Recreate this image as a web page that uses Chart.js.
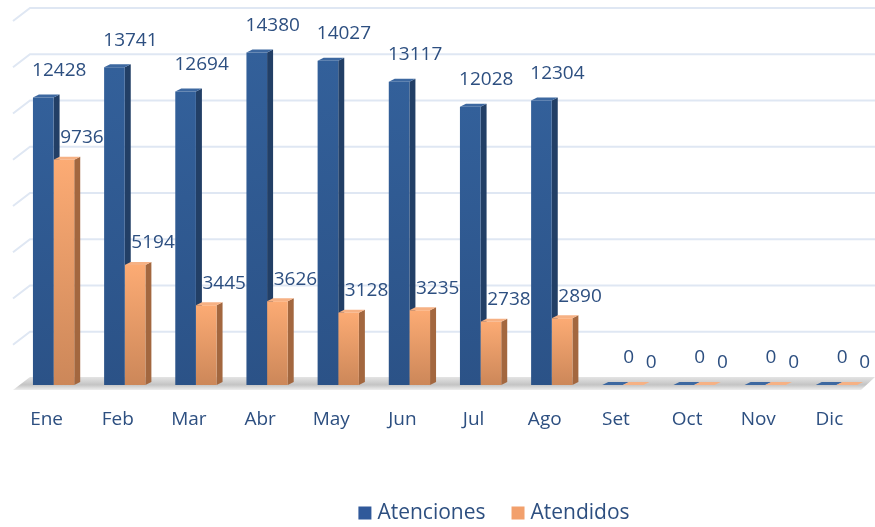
<html>
<head>
 <meta charset="utf-8" />
 <title>Atenciones y Atendidos</title>
 <script src="https://cdn.jsdelivr.net/npm/chart.js@4.4.1/dist/chart.umd.min.js"></script>
 <style>
  html, body { margin: 0; padding: 0; background: #ffffff; }
  #wrap { width: 875px; height: 527px; }
 </style>
</head>
<body>
 <div id="wrap"><canvas id="myChart"></canvas></div>
 <script>
  // data
  var meses = ["Ene", "Feb", "Mar", "Abr", "May", "Jun", "Jul", "Ago", "Set", "Oct", "Nov", "Dic"];
  var atenciones = [12428, 13741, 12694, 14380, 14027, 13117, 12028, 12304, 0, 0, 0, 0];
  var atendidos = [9736, 5194, 3445, 3626, 3128, 3235, 2738, 2890, 0, 0, 0, 0];
  var yTicks = [0, 2000, 4000, 6000, 8000, 10000, 12000, 14000, 16000];

  var textColor = "#2d4f80";
  var dx = 6, dy = -3;       // bar depth
  var wallDx = 17, wallDy = -7; // back wall offset

  var legendColors = ["#30599a", "#f2a06c"];
  var sideColors = ["#223f66", "#a3673f"];
  var topColors = ["#3d68a0", "#f6b184"];

  function barFill(c1, c2) {
   return function (context) {
    var chart = context.chart;
    if (!chart.chartArea || context.raw === undefined) return c1;
    var y = chart.scales.y;
    var top = y.getPixelForValue(context.raw);
    var bot = y.getPixelForValue(0);
    if (bot - top < 1) return c1;
    var g = chart.ctx.createLinearGradient(0, top, 0, bot);
    g.addColorStop(0, c1);
    g.addColorStop(1, c2);
    return g;
   };
  }

  var bar3d = {
   id: "bar3d",
   beforeDatasetsDraw: function (chart) {
    var ctx = chart.ctx, y = chart.scales.y;
    var x0 = 13, xb = x0 + wallDx, xr = chart.width;
    ctx.save();
    // back wall grid + left wall diagonals
    ctx.strokeStyle = "#dfe7f3";
    ctx.lineWidth = 2;
    yTicks.forEach(function (v) {
     if (v === 0) return;
     var yb = y.getPixelForValue(v) + wallDy;
     ctx.beginPath();
     ctx.moveTo(x0, yb + 13);
     ctx.lineTo(xb, yb);
     ctx.lineTo(xr, yb);
     ctx.stroke();
    });
    // floor
    var y0 = y.getPixelForValue(0);
    var g = ctx.createLinearGradient(0, y0 - 8, 0, y0 + 5);
    g.addColorStop(0, "#e4e4e4");
    g.addColorStop(0.6, "#c4c4c4");
    g.addColorStop(1, "#eeeeee");
    ctx.fillStyle = g;
    ctx.beginPath();
    ctx.moveTo(x0, y0 + 5);
    ctx.lineTo(xb, y0 - 8);
    ctx.lineTo(xr, y0 - 8);
    ctx.lineTo(xr - 14, y0 + 5);
    ctx.closePath();
    ctx.fill();

    // side and top faces of every bar (fronts are drawn by Chart.js on top)
    chart.data.datasets.forEach(function (ds, i) {
     chart.getDatasetMeta(i).data.forEach(function (bar) {
      var p = bar.getProps(["x", "y", "base", "width"], true);
      var l = p.x - p.width / 2, r = p.x + p.width / 2;
      ctx.fillStyle = sideColors[i];
      ctx.beginPath();
      ctx.moveTo(r, p.y);
      ctx.lineTo(r + dx, p.y + dy);
      ctx.lineTo(r + dx, p.base + dy);
      ctx.lineTo(r, p.base);
      ctx.closePath();
      ctx.fill();
      ctx.fillStyle = topColors[i];
      ctx.beginPath();
      ctx.moveTo(l, p.y);
      ctx.lineTo(l + dx, p.y + dy);
      ctx.lineTo(r + dx, p.y + dy);
      ctx.lineTo(r, p.y);
      ctx.closePath();
      ctx.fill();
     });
    });
    ctx.restore();
   },
   afterDatasetsDraw: function (chart) {
    var ctx = chart.ctx;
    var offs = [[16, -27], [18, -22]];
    ctx.save();
    ctx.font = "19px 'Open Sans'";
    ctx.fillStyle = textColor;
    ctx.textAlign = "center";
    ctx.textBaseline = "middle";
    chart.data.datasets.forEach(function (ds, i) {
     chart.getDatasetMeta(i).data.forEach(function (bar, j) {
      ctx.fillText(String(ds.data[j]), bar.x + offs[i][0], bar.y + offs[i][1]);
     });
    });
    ctx.restore();
   },
   afterDraw: function (chart) {
    // legend
    var ctx = chart.ctx;
    var box = 13, gap = 6, between = 26, cx = 494, cy = 513;
    ctx.save();
    ctx.font = "21px 'Open Sans'";
    ctx.textBaseline = "middle";
    ctx.textAlign = "left";
    var items = chart.data.datasets.map(function (ds) { return ds.label; });
    var total = 0;
    items.forEach(function (t, i) {
     total += box + gap + ctx.measureText(t).width + (i < items.length - 1 ? between : 0);
    });
    var x = cx - total / 2;
    items.forEach(function (t, i) {
     ctx.fillStyle = legendColors[i];
     ctx.fillRect(x, cy - box / 2, box, box);
     x += box + gap;
     ctx.fillStyle = textColor;
     ctx.fillText(t, x, cy);
     x += ctx.measureText(t).width + between;
    });
    ctx.restore();
   }
  };

  var chart = new Chart(document.getElementById("myChart"), {
   type: "bar",
   data: {
    labels: meses,
    datasets: [
     {
      label: "Atenciones",
      data: atenciones,
      backgroundColor: barFill("#33609a", "#2b5287"),
      borderWidth: 0
     },
     {
      label: "Atendidos",
      data: atendidos,
      backgroundColor: barFill("#fcab74", "#cc8759"),
      borderWidth: 0
     }
    ]
   },
   options: {
    responsive: true,
    maintainAspectRatio: false,
    animation: false,
    layout: { padding: { top: 15, left: 18, right: 3, bottom: 0 } },
    datasets: { bar: { categoryPercentage: 0.58, barPercentage: 1.0 } },
    scales: {
     x: {
      grid: { display: false },
      border: { display: false },
      ticks: {
       color: textColor,
       font: { family: "'Open Sans'", size: 19 },
       padding: 15,
       labelOffset: -7
      },
      afterFit: function (scale) { scale.height = 142; }
     },
     y: {
      display: false,
      min: 0,
      max: 16000,
      ticks: { stepSize: 2000 }
     }
    },
    plugins: {
     legend: { display: false },
     tooltip: { enabled: false }
    }
   },
   plugins: [bar3d]
  });
 </script>
</body>
</html>
